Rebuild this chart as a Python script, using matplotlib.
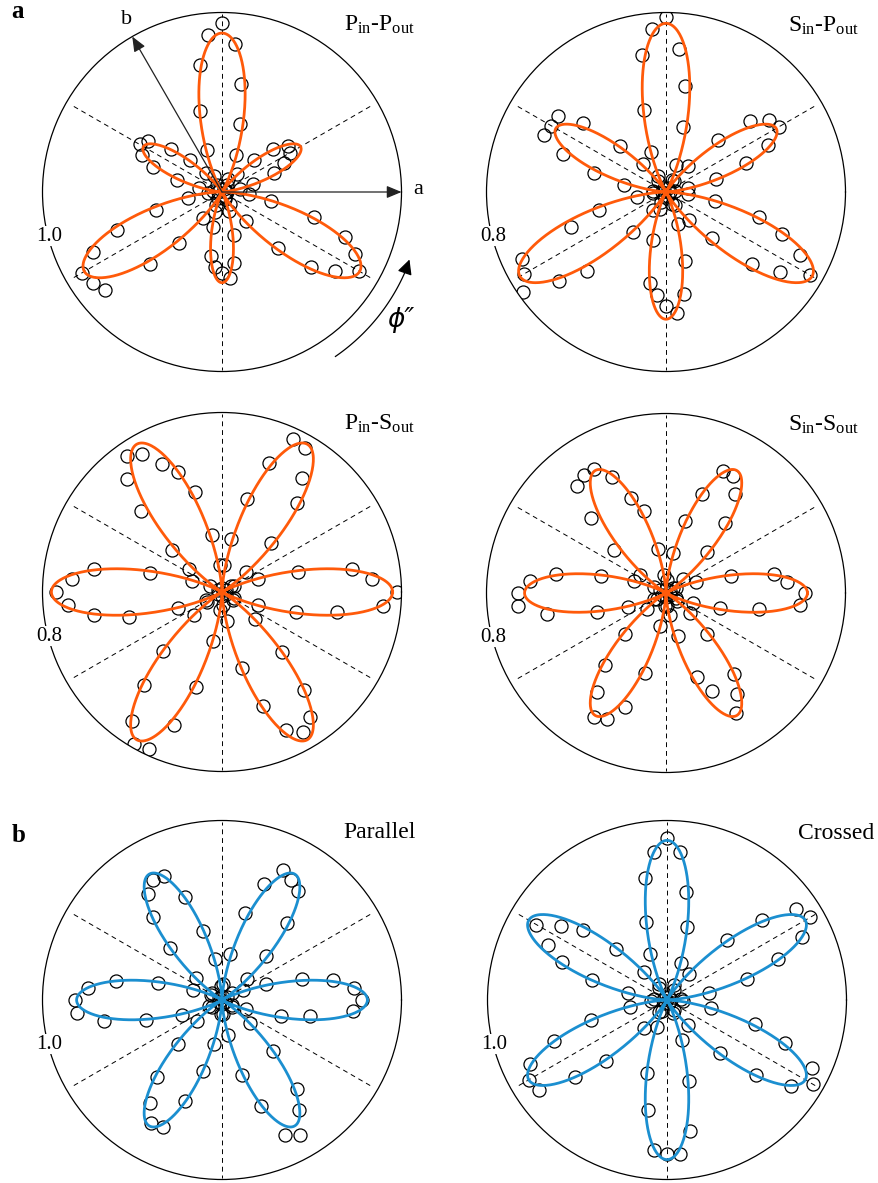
import numpy as np
import matplotlib.pyplot as plt

plt.rcParams['font.family'] = ['Liberation Serif', 'DejaVu Serif']
plt.rcParams['mathtext.fontset'] = 'custom'
plt.rcParams['mathtext.rm'] = 'Liberation Serif'
plt.rcParams['mathtext.it'] = 'Liberation Serif:italic'

W, H = 879, 1183

# azimuth of each measurement, degrees
phi_deg = list(range(0, 360, 5))

# normalised SHG intensity, one value per azimuth
pin_pout = [0.02, 0.03, 0.10, 0.18, 0.31, 0.38, 0.44, 0.45, 0.37, 0.25, 0.13, 0.05,
            0.02, 0.08, 0.22, 0.39, 0.61, 0.83, 0.94, 0.88, 0.72, 0.47, 0.25, 0.10,
            0.02, 0.05, 0.14, 0.25, 0.37, 0.50, 0.53, 0.49, 0.41, 0.26, 0.13, 0.05,
            0.02, 0.08, 0.19, 0.38, 0.62, 0.79, 0.90, 0.88, 0.85, 0.57, 0.37, 0.18,
            0.04, 0.08, 0.12, 0.20, 0.36, 0.42, 0.45, 0.48, 0.40, 0.25, 0.11, 0.04,
            0.03, 0.08, 0.21, 0.44, 0.65, 0.77, 0.88, 0.82, 0.73, 0.53, 0.28, 0.15]
sin_pout = [0.02, 0.04, 0.10, 0.23, 0.38, 0.50, 0.58, 0.56, 0.49, 0.33, 0.15, 0.06,
            0.02, 0.06, 0.13, 0.30, 0.48, 0.64, 0.78, 0.73, 0.62, 0.38, 0.19, 0.08,
            0.02, 0.06, 0.16, 0.29, 0.48, 0.59, 0.59, 0.60, 0.49, 0.33, 0.19, 0.06,
            0.02, 0.06, 0.13, 0.31, 0.45, 0.71, 0.73, 0.78, 0.62, 0.50, 0.23, 0.10,
            0.02, 0.05, 0.08, 0.22, 0.41, 0.46, 0.51, 0.54, 0.46, 0.32, 0.15, 0.06,
            0.02, 0.07, 0.16, 0.29, 0.50, 0.62, 0.74, 0.66, 0.55, 0.43, 0.22, 0.10]
pin_sout = [0.78, 0.67, 0.59, 0.35, 0.17, 0.06, 0.02, 0.05, 0.14, 0.31, 0.52, 0.62,
            0.74, 0.75, 0.61, 0.43, 0.24, 0.12, 0.02, 0.12, 0.26, 0.46, 0.57, 0.63,
            0.71, 0.74, 0.66, 0.51, 0.29, 0.18, 0.02, 0.06, 0.14, 0.33, 0.58, 0.67,
            0.74, 0.69, 0.58, 0.43, 0.21, 0.08, 0.02, 0.08, 0.16, 0.37, 0.54, 0.70,
            0.78, 0.77, 0.63, 0.44, 0.22, 0.08, 0.02, 0.06, 0.13, 0.35, 0.54, 0.68,
            0.72, 0.68, 0.57, 0.38, 0.19, 0.06, 0.02, 0.06, 0.17, 0.34, 0.52, 0.72]
sin_sout = [0.62, 0.54, 0.49, 0.30, 0.14, 0.05, 0.02, 0.04, 0.10, 0.26, 0.41, 0.54,
            0.60, 0.60, 0.47, 0.33, 0.18, 0.06, 0.02, 0.08, 0.20, 0.38, 0.45, 0.57,
            0.64, 0.64, 0.62, 0.47, 0.30, 0.14, 0.03, 0.06, 0.15, 0.30, 0.50, 0.61,
            0.66, 0.66, 0.54, 0.32, 0.18, 0.06, 0.02, 0.05, 0.11, 0.26, 0.42, 0.54,
            0.64, 0.62, 0.54, 0.37, 0.15, 0.06, 0.02, 0.06, 0.10, 0.20, 0.40, 0.48,
            0.62, 0.55, 0.47, 0.26, 0.14, 0.06, 0.02, 0.05, 0.13, 0.25, 0.42, 0.60]
parallel = [0.78, 0.74, 0.63, 0.46, 0.26, 0.13, 0.03, 0.07, 0.18, 0.35, 0.56, 0.74,
            0.77, 0.80, 0.69, 0.50, 0.26, 0.09, 0.02, 0.08, 0.23, 0.40, 0.61, 0.76,
            0.77, 0.72, 0.60, 0.41, 0.19, 0.07, 0.02, 0.07, 0.17, 0.37, 0.60, 0.75,
            0.82, 0.81, 0.67, 0.44, 0.24, 0.08, 0.02, 0.07, 0.18, 0.35, 0.56, 0.70,
            0.79, 0.78, 0.60, 0.41, 0.25, 0.08, 0.02, 0.08, 0.20, 0.43, 0.63, 0.83,
            0.87, 0.75, 0.65, 0.40, 0.20, 0.07, 0.02, 0.06, 0.14, 0.34, 0.50, 0.73]
crossed = [0.02, 0.08, 0.24, 0.46, 0.66, 0.83, 0.92, 0.88, 0.69, 0.47, 0.19, 0.07,
           0.02, 0.09, 0.22, 0.42, 0.61, 0.83, 0.90, 0.83, 0.69, 0.45, 0.27, 0.10,
           0.02, 0.08, 0.20, 0.40, 0.61, 0.72, 0.84, 0.73, 0.62, 0.43, 0.22, 0.07,
           0.02, 0.09, 0.21, 0.44, 0.67, 0.84, 0.89, 0.87, 0.67, 0.48, 0.20, 0.08,
           0.02, 0.07, 0.16, 0.42, 0.62, 0.84, 0.86, 0.86, 0.74, 0.47, 0.24, 0.08,
           0.02, 0.07, 0.18, 0.42, 0.65, 0.84, 0.94, 0.89, 0.70, 0.51, 0.25, 0.09]

# fitted field E = a sin3phi + b cos3phi + c, intensity = E^2
fit_coefs = [(0.826, 0.0, -0.115), (0.81, 0.0, -0.057), (0.0, 0.872, 0.0),
             (0.0, 0.794, 0.0), (0.0, 0.90, 0.0), (0.943, 0.0, 0.0)]

titles = [r'P$_{\rm in}$-P$_{\rm out}$', r'S$_{\rm in}$-P$_{\rm out}$',
          r'P$_{\rm in}$-S$_{\rm out}$', r'S$_{\rm in}$-S$_{\rm out}$',
          'Parallel', 'Crossed']
r_max = [1.0, 0.8, 0.8, 0.8, 1.0, 1.0]
r_labels = ['1.0', '0.8', '0.8', '0.8', '1.0', '1.0']
series = [pin_pout, sin_pout, pin_sout, sin_sout, parallel, crossed]

ORANGE = '#ff5a0a'
BLUE = '#1b8fd0'
colors = [ORANGE, ORANGE, ORANGE, ORANGE, BLUE, BLUE]

# panel centres and radius in pixels
centres = [(222, 192), (666, 192), (222, 592), (666, 593), (222, 1000), (667, 1000)]
R = 179.5
title_pos = [(379, 31), (823, 32), (379, 430), (823, 431), (380, 838), (836, 839)]


def fx(x):
    return x / W


def fy(y):
    return 1 - y / H


fig = plt.figure(figsize=(W / 100, H / 100), dpi=100)

axes = []
for k in range(6):
    cx, cy = centres[k]
    ax = fig.add_axes([fx(cx - R), fy(cy + R), 2 * R / W, 2 * R / H], projection='polar')
    rm = r_max[k]
    ax.set_ylim(0, rm)
    ax.grid(False)
    ax.set_xticks([])
    ax.set_yticks([])
    ax.spines['polar'].set_linewidth(0.9)

    for d in (30, 90, 150, 210, 270, 330):
        t = np.deg2rad(d)
        frac = 0.99 if d in (90, 270) else 0.965
        ax.plot([t, t], [0, frac * rm], color='k', lw=0.7, ls=(0, (5, 4)), zorder=1)

    ax.plot(np.deg2rad(phi_deg), series[k], 'o', mfc='none', mec='k',
            ms=9.4, mew=0.9, zorder=2)

    a, b, c = fit_coefs[k]
    t = np.linspace(0, 2 * np.pi, 1441)
    ax.plot(t, (a * np.sin(3 * t) + b * np.cos(3 * t) + c) ** 2,
            color=colors[k], lw=2.0, zorder=3)

    ax.text(np.deg2rad(194.3), 0.995 * rm, r_labels[k], ha='center', va='center',
            fontsize=15, zorder=5,
            bbox=dict(fc='white', ec='none', pad=0.6))

    tx, ty = title_pos[k]
    fig.text(fx(tx), fy(ty), titles[k], ha='center', va='baseline', fontsize=17)
    axes.append(ax)

# crystal axes and rotation sense on the first panel
ax = axes[0]
arrow = dict(arrowstyle='-|>,head_length=0.6,head_width=0.25', color='#222222',
             lw=0.9, shrinkA=0, shrinkB=0, mutation_scale=15)
ax.annotate('', xy=(0, 1.0), xytext=(0, 0), arrowprops=arrow, annotation_clip=False)
ax.annotate('', xy=(np.deg2rad(120), 1.0), xytext=(0, 0), arrowprops=arrow,
            annotation_clip=False)
fig.text(fx(418), fy(190), 'a', ha='center', va='center', fontsize=16)
fig.text(fx(126.7), fy(20), 'b', ha='center', va='center', fontsize=16)

arc_t = np.deg2rad(np.linspace(-55.4, -22.5, 60))
ax.plot(arc_t, np.full_like(arc_t, 1.113), color='k', lw=0.9, clip_on=False)
ax.annotate('', xy=(np.deg2rad(-19.8), 1.11), xytext=(np.deg2rad(-23.5), 1.113),
            arrowprops=dict(arrowstyle='-|>,head_length=0.6,head_width=0.3',
                            color='k', lw=0.9, shrinkA=0, shrinkB=0,
                            mutation_scale=15),
            annotation_clip=False)
fig.text(fx(401), fy(320), '\u03d5\u2033', ha='center', va='center', fontsize=19,
         family='DejaVu Sans', style='italic')

fig.text(fx(11.7), fy(18.3), 'a', ha='left', va='baseline', fontsize=18, weight='bold')
fig.text(fx(11.7), fy(841.7), 'b', ha='left', va='baseline', fontsize=18, weight='bold')

fig.savefig('out.png', dpi=100)
